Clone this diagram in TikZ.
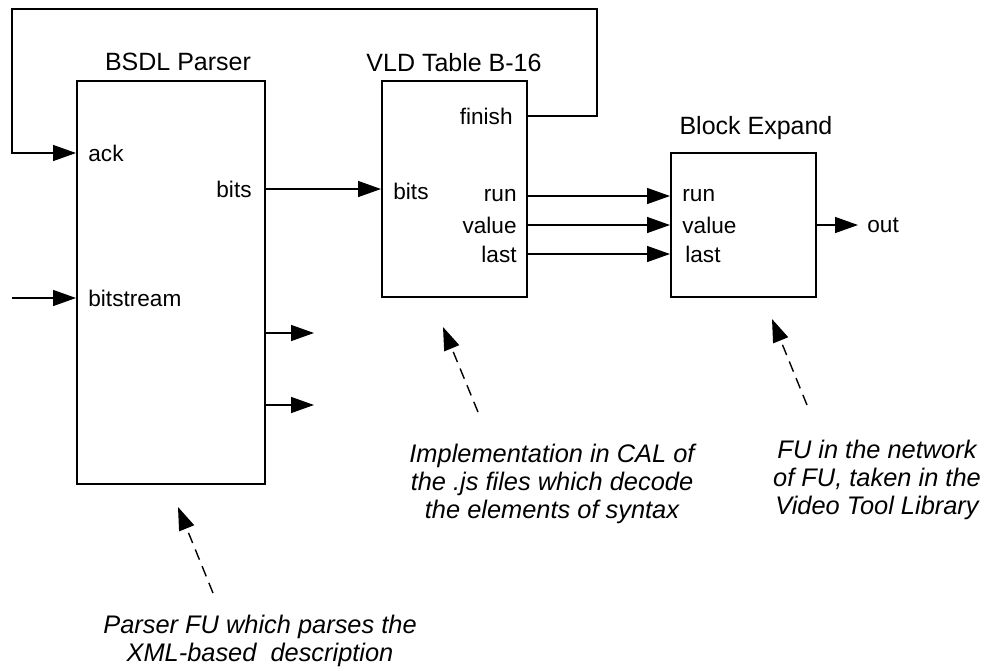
\documentclass[tikz,border=0pt]{standalone}
\usepackage{fontspec}
\setmainfont{Liberation Sans}
\usetikzlibrary{arrows.meta}

\tikzset{
  fu/.style={draw, line width=1pt, inner sep=0pt},
  title/.style={inner sep=0pt, font=\fontsize{12.5}{15}\selectfont},
  port/.style={inner sep=0pt, font=\fontsize{11.3}{13}\selectfont},
  note/.style={inner sep=0pt, align=center, font=\fontsize{12.7}{14}\selectfont\itshape},
  sig/.style={-{Triangle[length=11.5pt,width=8pt]}, line width=0.7pt},
  hint/.style={sig, dash pattern=on 5.5pt off 3.5pt},
}

\begin{document}
\begin{tikzpicture}[x=0.5pt,y=-0.5pt]
\useasboundingbox (0,0) rectangle (996,670);

% functional units
\node[fu, minimum width=94pt, minimum height=201.5pt] (parser) at (171,282.5) {};
\node[fu, minimum width=72.5pt, minimum height=108pt] (vld) at (454.5,189) {};
\node[fu, minimum width=72.5pt, minimum height=72pt] (block) at (743.5,225) {};
\node[title] (parsertitle) at (178,62) {BSDL Parser};
\node[title] (vldtitle) at (454,63) {VLD Table B-16};
\node[title] (blocktitle) at (756,128) {Block Expand};

% ports
\node[port, anchor=west] (ack) at (88,153) {ack};
\node[port, anchor=west] (bitstream) at (88,298) {bitstream};
\node[port, anchor=east] (pbits) at (252,189) {bits};
\node[port, anchor=west] (vbits) at (393,191) {bits};
\node[port, anchor=east] (finish) at (513,116) {finish};
\node[port, anchor=east] (vrun) at (517,196) {run};
\node[port, anchor=east] (vvalue) at (517,225) {value};
\node[port, anchor=east] (vlast) at (517,254) {last};
\node[port, anchor=west] (brun) at (682,196) {run};
\node[port, anchor=west] (bvalue) at (682,225) {value};
\node[port, anchor=west] (blast) at (685,254) {last};
\node[port, anchor=west] (out) at (867,225) {out};

% connections
\coordinate (fbr) at (597,9);
\coordinate (fbl) at (12,153);
\coordinate (bsin) at (12,298);
\coordinate (outend) at (858,225);
\coordinate (stub1) at (314,333);
\coordinate (stub2) at (314,405);
\draw[sig] (vld.east |- finish) -| (fbr) -| (fbl) -- (parser.west |- ack);
\draw[sig] (bsin) -- (parser.west |- bitstream);
\draw[sig] (parser.east |- pbits) -- (vld.west |- pbits);
\draw[sig] (vld.east |- vrun) -- (block.west |- vrun);
\draw[sig] (vld.east |- vvalue) -- (block.west |- vvalue);
\draw[sig] (vld.east |- vlast) -- (block.west |- vlast);
\draw[sig] (block.east |- out) -- (outend);
\draw[sig] (parser.east |- stub1) -- (stub1);
\draw[sig] (parser.east |- stub2) -- (stub2);

% comments
\node[note] (parsernote) at (260,641) {Parser FU which parses the\\XML-based\ \ description};
\node[note] (vldnote) at (552,484) {Implementation in CAL of\\the .js files which decode\\the elements of syntax};
\node[note] (blocknote) at (877,480) {FU in the network\\of FU, taken in the\\Video Tool Library};
\coordinate (ph) at (213,593);
\coordinate (vh) at (478,412);
\coordinate (bh) at (807,405);
\draw[hint] (ph) -- (178,507);
\draw[hint] (vh) -- (443,327);
\draw[hint] (bh) -- (772,319);
\end{tikzpicture}
\end{document}
